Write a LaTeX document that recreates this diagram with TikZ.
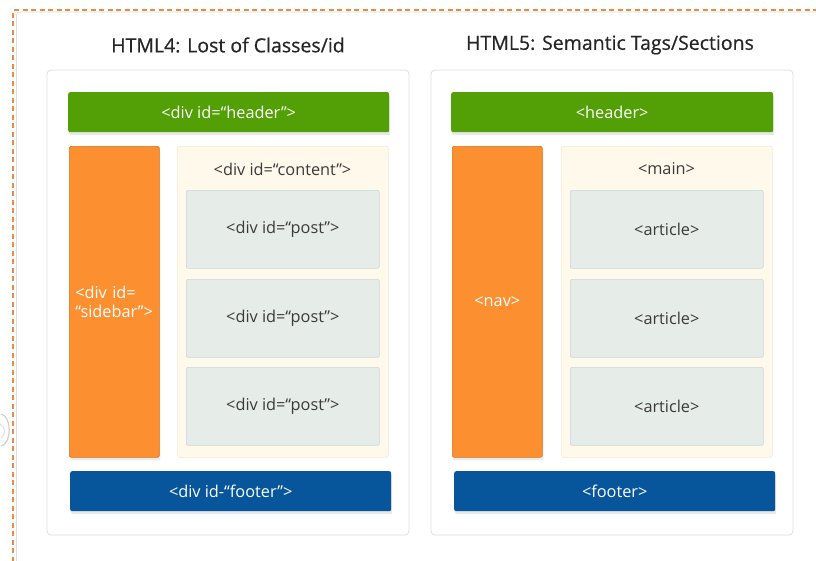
\documentclass[tikz,border=0pt]{standalone}
\usepackage{fontspec}
\setmainfont{Open Sans}
\newfontfamily\titlefont[FakeBold=0.6]{Open Sans}
\usetikzlibrary{shadows}
\definecolor{hgreen}{HTML}{52A005}
\definecolor{horange}{HTML}{FC8F2F}
\definecolor{horangeb}{HTML}{D9701A}
\definecolor{hblue}{HTML}{07559B}
\definecolor{hcream}{HTML}{FEF9EA}
\definecolor{hcreamb}{HTML}{F7E6D2}
\definecolor{hpost}{HTML}{E6ECE8}
\definecolor{hpostb}{HTML}{C9D6DC}
\definecolor{hdash}{HTML}{EE8A3C}
\definecolor{hframe}{HTML}{DDDDDD}
\definecolor{htext}{HTML}{3A3A3A}
\tikzset{
  x=1pt, y=-1pt,
  box/.style={rounded corners=2pt, inner sep=0pt, anchor=north west},
  panel/.style={draw=hframe, fill=white, line width=0.8pt, rounded corners=4pt},
  barbox/.style={box, fill=#1, text=white, font=\fontsize{16.3}{18}\selectfont,
    drop shadow={opacity=0.18, shadow xshift=1pt, shadow yshift=-3pt}},
  sidebox/.style={box, fill=horange, draw=horangeb, line width=0.6pt, text=white,
    font=\fontsize{16.3}{19.5}\selectfont,
    drop shadow={opacity=0.15, shadow xshift=1pt, shadow yshift=-3pt}},
  contbox/.style={box, fill=hcream, draw=hcreamb, line width=0.5pt},
  postbox/.style={box, fill=hpost, draw=hpostb, line width=0.6pt, text=htext,
    font=\fontsize{16.3}{18}\selectfont},
  title/.style={font=\titlefont\fontsize{19.5}{21}\selectfont, text=black!85},
  lbl/.style={font=\fontsize{16.3}{18}\selectfont, text=htext},
}
\begin{document}
\begin{tikzpicture}
\useasboundingbox (0,0) rectangle (816,560);
\fill[white] (0,0) rectangle (816,560);
% outer frame
\draw[hframe, line width=0.8pt, rounded corners=3pt] (16.5,30) -- (16.5,12) -- (830,12);
\draw[hframe, line width=0.8pt] (16.5,30) -- (16.5,570);
\draw[hdash, line width=2pt, dash pattern=on 5pt off 3.5pt] (13,570) -- (13,10) -- (830,10);
% faint edge icon
\draw[black!18, line width=1.2pt] (1,414) .. controls (12,416) and (12,444) .. (1,446);
\draw[black!12, line width=1pt] (0,424) .. controls (6,428) and (6,434) .. (1,438);

% titles
\node[title] (t4) at (228,45) {HTML4: Lost of Classes/id};
\node[title] (t5) at (610,45) {HTML5: Semantic Tags/Sections};

% panels
\draw[panel] (47,70) rectangle (409,535);
\draw[panel] (431,70) rectangle (793,535);

% left (HTML4)
\node[barbox=hgreen, minimum width=321pt, minimum height=40pt] (h4) at (68,92) {<div id=“header”>};
\node[sidebox, minimum width=90pt, minimum height=311pt, align=left, text width=84pt] (s4) at (69,146) {\hspace*{3pt}\parbox{80pt}{<div id=\\“sidebar”>}};
\node[contbox, minimum width=211pt, minimum height=311pt] (c4) at (177,146) {};
\node[lbl] (c4l) at (282.5,169) {<div id=“content”>};
\node[postbox, minimum width=193pt, minimum height=78pt] (p41) at (186,190) {<div id=“post”>};
\node[postbox, minimum width=193pt, minimum height=78pt] (p42) at (186,279) {<div id=“post”>};
\node[postbox, minimum width=193pt, minimum height=78pt] (p43) at (186,367) {<div id=“post”>};
\node[barbox=hblue, minimum width=321pt, minimum height=40pt] (f4) at (70,471) {<div id-“footer”>};

% right (HTML5)
\node[barbox=hgreen, minimum width=322pt, minimum height=40pt] (h5) at (451,92) {<header>};
\node[sidebox, minimum width=90pt, minimum height=311pt] (n5) at (452,146) {<nav>};
\node[contbox, minimum width=211pt, minimum height=311pt] (m5) at (561,146) {};
\node[lbl] (m5l) at (666.5,169) {<main>};
\node[postbox, minimum width=193pt, minimum height=78pt] (a51) at (570,190) {<article>};
\node[postbox, minimum width=193pt, minimum height=78pt] (a52) at (570,279) {<article>};
\node[postbox, minimum width=193pt, minimum height=78pt] (a53) at (570,367) {<article>};
\node[barbox=hblue, minimum width=321pt, minimum height=40pt] (f5) at (454,471) {<footer>};
\end{tikzpicture}
\end{document}
